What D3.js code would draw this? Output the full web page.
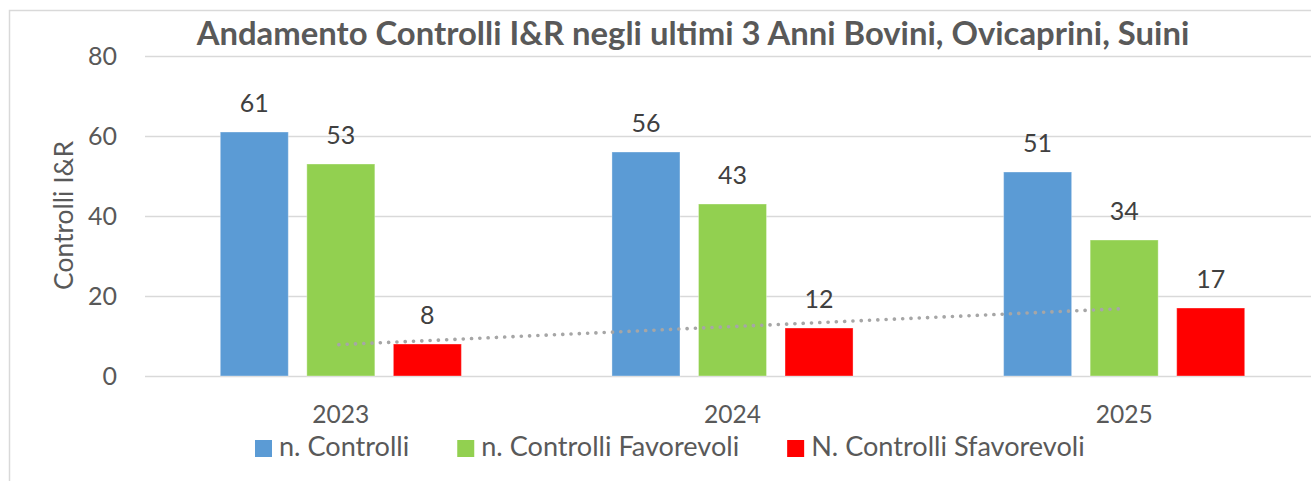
<!DOCTYPE html>
<html>
<head>
<meta charset="utf-8">
<script src="https://cdn.jsdelivr.net/npm/d3@7"></script>
<style>
  html, body { margin: 0; padding: 0; background: #fff; }
  svg { display: block; }
  text { font-family: Lato, "Open Sans", sans-serif; }
</style>
</head>
<body>
<svg id="chart" width="1311" height="481"></svg>
<script>
// Chart data
const years = ["2023", "2024", "2025"];
const seriesNames = ["n. Controlli", "n. Controlli Favorevoli", "N. Controlli Sfavorevoli"];
const controlli = [61, 56, 51];
const favorevoli = [53, 43, 34];
const sfavorevoli = [8, 12, 17];
const yTicks = [0, 20, 40, 60, 80];
const titleText = "Andamento Controlli I&R negli ultimi 3 Anni Bovini, Ovicaprini, Suini";
const yAxisTitle = "Controlli I&R";

const colors = ["#5B9BD5", "#92D050", "#FF0000"];
const seriesValues = [controlli, favorevoli, sfavorevoli];

const svg = d3.select("#chart");
const W = 1311, H = 481;

// Scale a text element's font so it spans the given width
function fitWidth(sel, base, width) {
  sel.attr("font-size", base);
  const w = sel.node().getComputedTextLength();
  sel.attr("font-size", base * width / w);
  return base * width / w;
}

// Outer chart frame (left and top edges visible)
svg.append("path")
  .attr("d", `M9.5,${H} V10.5 H${W}`)
  .attr("fill", "none")
  .attr("stroke", "#d9d9d9")
  .attr("stroke-width", 1.5);

// Scales
const plot = { left: 145, right: 1320, top: 56, bottom: 376 };
const x0 = d3.scaleBand().domain(years).range([plot.left, plot.right]).paddingInner(0).paddingOuter(0);
const x1 = d3.scaleBand().domain(d3.range(3)).range([0, x0.bandwidth()]).paddingInner(0.214).paddingOuter(0.87);
const y = d3.scaleLinear().domain([0, 80]).range([plot.bottom, plot.top]);

// Gridlines
svg.append("g").selectAll("line").data(yTicks).join("line")
  .attr("x1", plot.left).attr("x2", W)
  .attr("y1", d => y(d) + 0.5).attr("y2", d => y(d) + 0.5)
  .attr("stroke", "#d9d9d9").attr("stroke-width", 1.5);

// Y tick labels
svg.append("g").selectAll("text").data(yTicks).join("text")
  .attr("x", 117).attr("y", d => y(d))
  .attr("dy", "0.36em")
  .attr("text-anchor", "end")
  .attr("fill", "#595959")
  .attr("font-size", 25)
  .text(d => d);

// Y axis title
const yTitle = svg.append("text")
  .attr("transform", "translate(63,215.5) rotate(-90)")
  .attr("text-anchor", "middle")
  .attr("dy", "0.36em")
  .attr("fill", "#595959")
  .text(yAxisTitle);
fitWidth(yTitle, 24, 149);

// Bars
const groups = svg.append("g").selectAll("g").data(years).join("g")
  .attr("transform", d => `translate(${x0(d)},0)`);

groups.selectAll("rect")
  .data((d, i) => seriesValues.map((vals, s) => ({ s, v: vals[i] })))
  .join("rect")
  .attr("x", d => x1(d.s))
  .attr("width", x1.bandwidth())
  .attr("y", d => y(d.v))
  .attr("height", d => y(0) - y(d.v))
  .attr("fill", d => colors[d.s])
  .attr("stroke", "rgba(255,255,255,0.35)")
  .attr("stroke-width", 1);

// Linear trendline for the unfavourable series (least squares)
const xs = d3.range(1, years.length + 1);
const mx = d3.mean(xs), my = d3.mean(sfavorevoli);
const slope = d3.sum(xs, (xi, i) => (xi - mx) * (sfavorevoli[i] - my)) / d3.sum(xs, xi => (xi - mx) ** 2);
const intercept = my - slope * mx;
const trendPts = [0, years.length - 1].map(i => [
  x0(years[i]) + x0.bandwidth() / 2 - 2,
  y(intercept + slope * xs[i])
]);
svg.append("path")
  .attr("d", d3.line()(trendPts))
  .attr("fill", "none")
  .attr("stroke", "#a6a6a6")
  .attr("stroke-width", 3.6)
  .attr("stroke-linecap", "round")
  .attr("stroke-dasharray", "0.1 8.2");

// Value labels
groups.selectAll("text.val")
  .data((d, i) => seriesValues.map((vals, s) => ({ s, v: vals[i] })))
  .join("text")
  .attr("class", "val")
  .attr("x", d => x1(d.s) + x1.bandwidth() / 2)
  .attr("y", d => y(d.v) - 20)
  .attr("text-anchor", "middle")
  .attr("fill", "#404040")
  .attr("font-size", 25)
  .text(d => d.v);

// Category labels
const cats = svg.append("g").selectAll("text").data(years).join("text")
  .attr("x", d => x0(d) + x0.bandwidth() / 2)
  .attr("y", 423)
  .attr("text-anchor", "middle")
  .attr("fill", "#595959")
  .text(d => d);
const catSize = fitWidth(d3.select(cats.node()), 24, 57);
cats.attr("font-size", catSize);

// Title, sized to span its line
const title = svg.append("text")
  .attr("x", 693).attr("y", 45)
  .attr("text-anchor", "middle")
  .attr("fill", "#595959")
  .attr("font-weight", "bold");
title.text(titleText);
fitWidth(title, 26, 993);

// Legend
const legend = svg.append("g");
const items = legend.selectAll("g").data(seriesNames).join("g");
items.append("rect")
  .attr("width", 17).attr("height", 17)
  .attr("y", 440)
  .attr("fill", (d, i) => colors[i]);
const legendTexts = items.append("text")
  .attr("x", 24).attr("y", 456)
  .attr("fill", "#595959")
  .attr("font-size", 24)
  .text(d => d);
let rawTotal = 0;
legendTexts.each(function () { rawTotal += this.getComputedTextLength(); });
const legendSize = 24 * (129 + 260 + 273) / rawTotal;
legendTexts.attr("font-size", legendSize);
const widths = [];
legendTexts.each(function () { widths.push(this.getComputedTextLength() + 24); });
const gap = 48;
let cx = 255;
items.attr("transform", (d, i) => {
  const t = `translate(${cx},0)`;
  cx += widths[i] + gap;
  return t;
});
</script>
</body>
</html>
